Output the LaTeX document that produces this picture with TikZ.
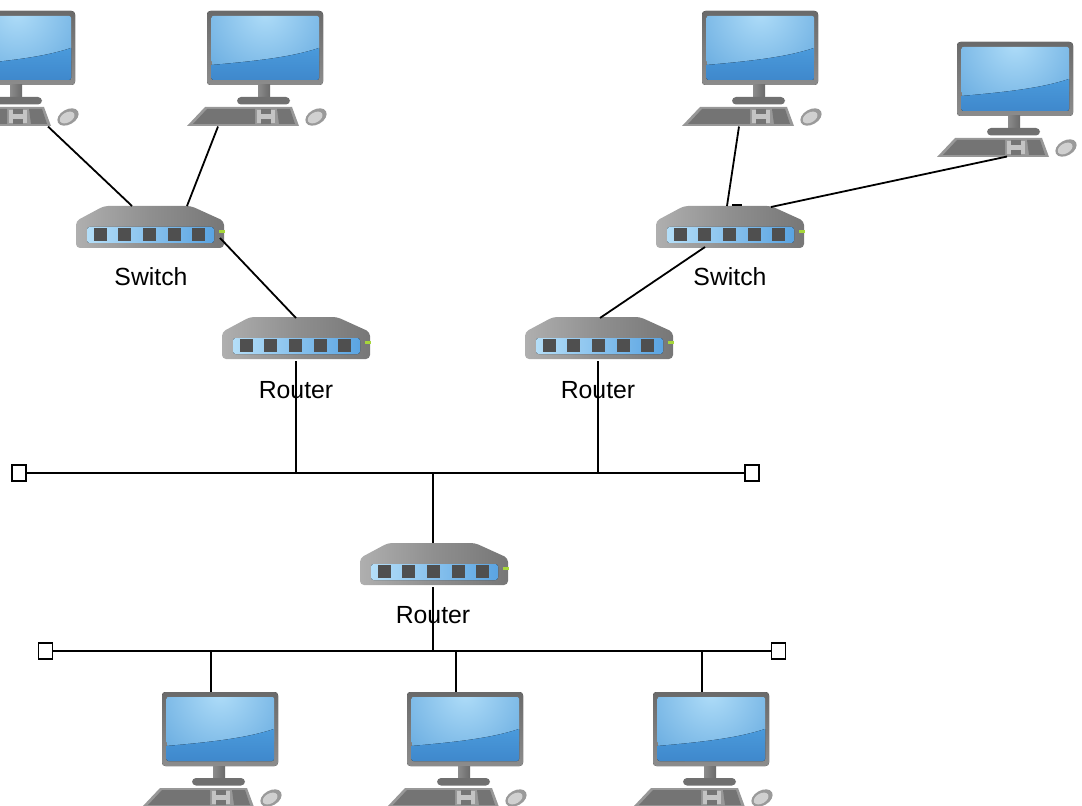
\documentclass[tikz,border=0pt]{standalone}
\usepackage{fontspec}
\setmainfont{Liberation Sans}
\usetikzlibrary{calc}
\definecolor{frameT}{HTML}{6A6A6A}
\definecolor{frameB}{HTML}{8C8C8C}
\definecolor{scrLight}{HTML}{AEDCF8}
\definecolor{scrMid}{HTML}{6FB0E2}
\definecolor{scrLowT}{HTML}{4A9ADB}
\definecolor{scrLowB}{HTML}{3F88CC}
\definecolor{kbFrame}{HTML}{989898}
\definecolor{kbKeys}{HTML}{747474}
\definecolor{kbPad}{HTML}{C4C4C4}
\definecolor{baseGray}{HTML}{707070}
\definecolor{mouseOut}{HTML}{9A9A9A}
\definecolor{mouseIn}{HTML}{D0D0D0}
\definecolor{swL}{HTML}{AFAFAF}
\definecolor{swM}{HTML}{8F8F8F}
\definecolor{swR}{HTML}{777777}
\definecolor{panL}{HTML}{B4DEF8}
\definecolor{panR}{HTML}{5AA4E2}
\definecolor{portGray}{HTML}{4F4F4F}
\definecolor{ledGreen}{HTML}{A6D63A}
\tikzset{
  wire/.style={draw=black,line width=1.35pt},
  pcbox/.style={rectangle,inner sep=0pt,minimum width=105pt,minimum height=86.25pt,anchor=north west},
  swbox/.style={rectangle,inner sep=0pt,minimum width=111.75pt,minimum height=33pt,anchor=north west},
  endcap/.style={rectangle,draw=black,line width=1.35pt,fill=white,inner sep=0pt,minimum width=10.5pt,minimum height=11.5pt},
  lab/.style={font=\fontsize{18.6pt}{22pt}\selectfont,text=black,inner sep=0pt},
  pc/.pic={
    % local origin: north west of the icon box; y grows downward
    \fill[top color=frameT,bottom color=frameB,rounded corners=2.5pt] (20,0) rectangle (136,74);
    \begin{scope}
      \clip[rounded corners=1.5pt] (24.5,5) rectangle (132,69);
      \fill[scrMid] (24.5,5) rectangle (132,69);
      \shade[inner color=scrLight,outer color=scrMid] (78,2) circle (72);
      \fill[top color=scrLowT,bottom color=scrLowB] (24.5,54) .. controls (70,50) and (105,46) .. (132,37) -- (132,69) -- (24.5,69) -- cycle;
    \end{scope}
    \fill[left color=frameB,right color=frameT] (71,74) rectangle (83,87);
    \fill[baseGray,rounded corners=3pt] (50,86) rectangle (103,93.5);
    \fill[kbFrame] (18,96) -- (105,96) -- (112,115) -- (0,115) -- cycle;
    \fill[kbKeys] (20,98) -- (68,98) -- (68,113) -- (6,113) -- cycle;
    \fill[kbKeys] (90,98) -- (103,98) -- (108,113) -- (92,113) -- cycle;
    \fill[kbPad] (70,99) rectangle (88,112);
    \fill[kbKeys] (74,98) rectangle (84,103);
    \fill[kbKeys] (74,108) rectangle (84,113);
    \fill[mouseOut,rotate around={30:(129,106)}] (129,106) ellipse (11.5 and 7.5);
    \fill[mouseIn,rotate around={30:(129,106)}] (128,106) ellipse (8 and 5);
  },
  switchicon/.pic={
    % local origin: north west of the icon box; y grows downward
    \shade[left color=swL,right color=swR,middle color=swM,rounded corners=3pt] (0,15) -- (28,0) -- (115,0) -- (148,15) -- (148,42) -- (0,42) -- cycle;
    \fill[left color=panL,right color=panR,rounded corners=2pt] (11,21) rectangle (138,37);
    \foreach \px in {24,48,73,98,122}{\fill[portGray] (\px-6.5,22) rectangle (\px+6.5,35);}
    \fill[ledGreen] (143,24) rectangle (149,27);
  }
}
\begin{document}
\begin{tikzpicture}[x=0.75pt,y=-0.75pt]
\useasboundingbox (0,0) rectangle (1082,806);
\clip (0,0) rectangle (1082,806);
% icon boxes
\node[pcbox] (pcA) at (-61,11) {};
\node[pcbox] (pcB) at (187,11) {};
\node[pcbox] (pcC) at (682,11) {};
\node[pcbox] (pcD) at (937,42) {};
\node[pcbox] (pcE) at (142,692) {};
\node[pcbox] (pcF) at (387,692) {};
\node[pcbox] (pcG) at (633,692) {};
\node[swbox] (swA) at (76,206) {};
\node[swbox] (swB) at (656,206) {};
\node[swbox] (rtA) at (222,317) {};
\node[swbox] (rtB) at (525,317) {};
\node[swbox] (rtC) at (360,543) {};
\foreach \n in {pcA,pcB,pcC,pcD,pcE,pcF,pcG}{\pic at (\n.north west) {pc};}
\foreach \n in {swA,swB,rtA,rtB,rtC}{\pic at (\n.north west) {switchicon};}
% bus ends
\node[endcap] (busAl) at (19,473) {};
\node[endcap] (busAr) at (752,473) {};
\node[endcap] (busBl) at (45.5,651) {};
\node[endcap] (busBr) at (778.5,651) {};
% junctions on the buses
\coordinate (jA) at (296,473);
\coordinate (jB) at (598,473);
\coordinate (jC) at (433,473);
\coordinate (jD) at (433,651);
\coordinate (jE) at (211,651);
\coordinate (jF) at (456,651);
\coordinate (jG) at (702,651);
% connectors
\draw[wire] (busAl.east) -- (busAr.west);
\draw[wire] (busBl.east) -- (busBr.west);
\draw[wire] ($(pcA.south west)+(109,0)$) -- ($(swA.north west)+(56,0)$);
\draw[wire] ($(pcB.south west)+(31,0)$) -- ($(swA.north west)+(111,0)$);
\draw[wire] ($(pcC.south west)+(57,0)$) -- ($(swB.north west)+(71,0)$);
\draw[wire] ($(pcD.south west)+(70,-1)$) -- ($(swB.north west)+(115,1)$);
\draw[wire] ($(swB.north west)+(76,-1)$) -- ($(swB.north west)+(86,-1)$);
\draw[wire] ($(swA.north west)+(144,32)$) -- ($(rtA.north west)+(74,1)$);
\draw[wire] ($(swB.north west)+(49,41)$) -- ($(rtB.north west)+(75,1)$);
\draw[wire] ($(rtA.north west)+(74,44)$) -- (jA);
\draw[wire] ($(rtB.north west)+(73,44)$) -- (jB);
\draw[wire] (jC) -- ($(rtC.north west)+(73,0)$);
\draw[wire] ($(rtC.north west)+(73,44)$) -- (jD);
\draw[wire] (jE) -- ($(pcE.north west)+(69,0)$);
\draw[wire] (jF) -- ($(pcF.north west)+(69,0)$);
\draw[wire] (jG) -- ($(pcG.north west)+(69,0)$);
% labels
\node[lab] (tSwA) at (151,277) {Switch};
\node[lab] (tSwB) at (730,277) {Switch};
\node[lab] (tRtA) at (296,390) {Router};
\node[lab] (tRtB) at (598,390) {Router};
\node[lab] (tRtC) at (433,615) {Router};
\end{tikzpicture}
\end{document}
